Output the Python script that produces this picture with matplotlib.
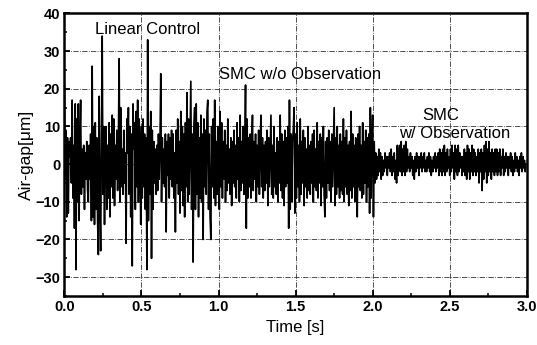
import matplotlib
matplotlib.use("Agg")
import matplotlib.pyplot as plt
import numpy as np
from matplotlib.ticker import MultipleLocator

plt.rcParams['font.family'] = ['Liberation Sans', 'DejaVu Sans']

# sample step of the measured air-gap signal [s]
DT = 0.005

# air-gap [um], one row per 0.1 s
linear_control = [
    21, -4, 9, -14, 7, -13, 6, 2, 7, -5, 17, -9, 5, -17, 16, -28, 12, -10, 16, -15,
    6, 17, -8, 4, -6, 5, -12, 3, -4, 6, -7, -10, 5, -4, 8, -15, 26, -14, 10, -16,
    11, -12, 7, -15, -24, 18, -10, -23, 8, 34, -8, 10, -16, 6, 10, -12, 5, -9, 11, -14,
    8, -6, 13, -9, 12, -11, 5, -4, 9, -7, 6, 28, -10, 15, -6, 4, -8, 9, -5, 3,
    -21, 12, 3, 15, -8, 10, -14, 8, -27, 16, 4, 11, -12, 14, -6, 17, -10, 12, 2, -16,
    10, -9, 12, -6, 8, -12, 7, -28, 33, -15, 10, -8, 14, -25, 9, -12, 6, -5, 4, -8,
    5, -7, 8, -4, 6, 24, -10, 7, -5, 4, -6, 8, -18, 6, -3, 8, -9, 7, -4, 9,
    -6, 8, -9, 3, -18, 9, -5, 12, -8, 6, -13, 14, -7, 10, -11, 8, -14, 11, -6, 19,
    -10, 12, -8, 6, 22, -12, 8, -26, 10, 15, -12, 16, -8, 11, -14, 7, -9, 13, -10, 8,
    -20, 12, -6, 9, -8, 14, 17, -12, 8, -14, -20, 10, -6, 12, -9, 17, -11, 6, -8, 10,
]
smc_without_obs = [
    8, -12, 14, -6, 11, -9, 6, -4, 9, -10, 5, -7, 12, -5, 4, -8, 7, -11, 6, -5,
    9, -6, 5, -9, 11, -4, 7, -10, 13, -7, 6, -5, 10, -8, 4, 21, -17, 12, -9, 7,
    -6, 8, -9, 5, 13, -7, 6, -4, 8, -10, 5, -6, 9, -8, 4, 13, -6, 7, -9, 5,
    -7, 6, -5, 9, -11, 7, -6, 4, 13, -8, 5, -9, 10, -6, 3, -8, 7, -10, 6, -5,
    13, -7, 8, -9, 6, -11, 9, -6, 7, -5, 10, -17, 17, -12, 8, -10, 6, 9, 15, -13,
    8, -9, 11, -6, 5, -10, 12, -8, 6, -5, 9, -11, 7, -6, 4, -9, 10, -7, 5, -8,
    6, -5, 8, -10, 9, -6, 4, -7, 11, -9, 6, -5, 8, -11, 7, -6, 10, -8, -14, 6,
    -9, 7, -5, 9, -7, 6, -10, 8, -6, 4, 15, -11, 7, -8, 10, -6, 5, -9, 8, -7,
    6, -8, 12, -10, 7, -6, 9, -8, 5, -11, 6, -7, 14, -9, 8, -6, 5, -10, 7, -8,
    -14, 8, -6, 10, -7, 5, -9, 11, -8, 6, -5, 9, -10, 7, -6, 8, -13, 15, -9, 6,
]
smc_with_obs = [
    13, -14, 6, -5, 3, -4, 2, -3, 4, -2, 3, -4, 2, -3, 1, -2, 3, -1, 2, -3,
    2, -1, 3, -2, 4, -3, 2, -2, 3, -4, 1, -5, 5, -3, 2, 5, -2, 6, -3, 4,
    -2, 5, -3, 6, -2, 4, -1, 2, -2, 3, -1, 2, -3, 1, -4, 2, -2, 3, -1, 2,
    -3, 2, -1, 3, -2, 2, -1, 3, -2, 1, -2, 2, -1, 3, -2, 2, -3, 1, -2, 2,
    -1, 3, -2, 2, -1, 3, -3, 4, -2, 3, -3, 4, -2, 5, -3, 3, -2, 4, -1, 2,
    -3, 4, -2, 5, -1, 3, -4, 5, -2, 4, -3, 5, -2, 3, -1, 2, -3, 2, -2, 4,
    -3, 3, -4, 5, -2, 4, -4, 3, -2, 5, -3, 4, -2, 3, -3, 2, -2, 4, -5, 3,
    -2, 4, -7, 3, -4, 5, -2, 6, -5, 4, -3, 6, -2, 3, -4, 4, -2, 3, -3, 4,
    -2, 4, -3, 3, -2, 4, -3, 2, -1, 4, -3, 2, -2, 3, -1, 2, -3, 2, -1, 3,
    -2, 2, -3, 1, -2, 3, -1, 2, -2, 1, -3, 2, -1, 3, -2, 2, -1, 1, -2, 0,
]

airgap = np.array(linear_control + smc_without_obs + smc_with_obs, dtype=float)
time = np.arange(len(airgap)) * DT

fig = plt.figure(figsize=(5.37, 3.45), dpi=100)
ax = fig.add_axes([0.120, 0.142, 0.861, 0.819])

ax.plot(time, airgap, color='black', linewidth=1.2)

ax.set_xlim(0, 3.0)
ax.set_ylim(-35, 40)
ax.xaxis.set_major_locator(MultipleLocator(0.5))
ax.xaxis.set_minor_locator(MultipleLocator(0.25))
ax.yaxis.set_major_locator(MultipleLocator(10))
ax.yaxis.set_minor_locator(MultipleLocator(5))
ax.tick_params(which='major', direction='in', length=4, width=1.3, labelsize=10.5, pad=3)
ax.tick_params(which='minor', direction='in', length=2.5, width=1.1)
ax.xaxis.set_major_formatter(matplotlib.ticker.FormatStrFormatter('%.1f'))
for lbl in ax.get_xticklabels() + ax.get_yticklabels():
    lbl.set_fontweight('bold')

ax.grid(True, which='major', linestyle='-.', color='#333333', linewidth=0.6)
for sp in ax.spines.values():
    sp.set_linewidth(1.8)

ax.set_xlabel('Time [s]', fontsize=12, labelpad=4)
ax.set_ylabel('Air-gap[μm]', fontsize=12.5, labelpad=1)

ax.text(0.20, 35.8, 'Linear Control', fontsize=12, va='center', ha='left')
ax.text(1.0, 23.8, 'SMC w/o Observation', fontsize=12, va='center', ha='left')
ax.text(2.32, 13.0, 'SMC', fontsize=12, va='center', ha='left')
ax.text(2.17, 8.2, 'w/ Observation', fontsize=12, va='center', ha='left')

fig.savefig('out.png', dpi=100)
